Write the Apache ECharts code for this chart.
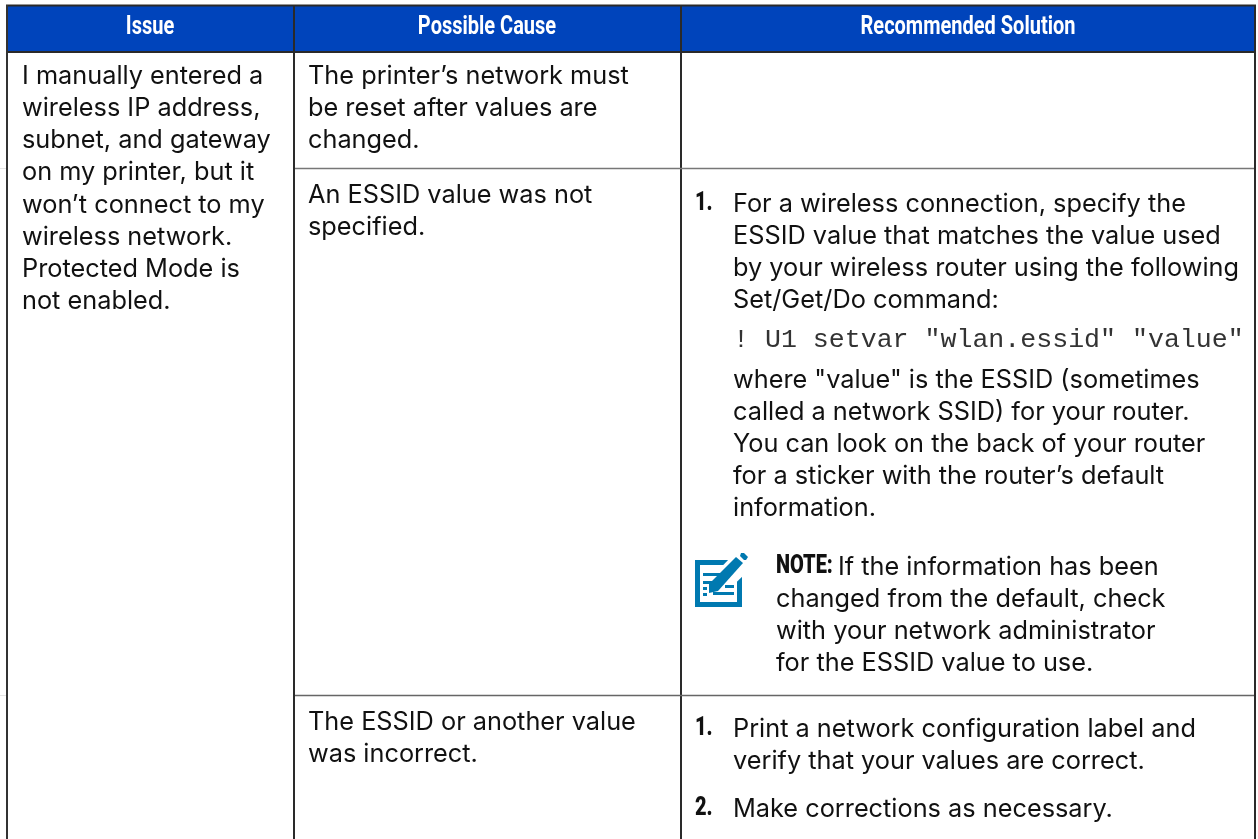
<!DOCTYPE html>
<html>
<head>
<meta charset="utf-8">
<style>html,body{margin:0;background:#fff}#main{width:1258px;height:839px}</style>
<script src="https://cdn.jsdelivr.net/npm/echarts@6/dist/echarts.min.js"></script>
</head>
<body>
<div id="main"></div>
<script>
const headers = ["Issue", "Possible Cause", "Recommended Solution"];
const issueLines = ["I manually entered a", "wireless IP address,", "subnet, and gateway", "on my printer, but it", "won\u2019t connect to my", "wireless network.", "Protected Mode is", "not enabled."];
const causeA = ["The printer\u2019s network must", "be reset after values are", "changed."];
const causeB = ["An ESSID value was not", "specified."];
const causeC = ["The ESSID or another value", "was incorrect."];
const stepA = ["For a wireless connection, specify the", "ESSID value that matches the value used", "by your wireless router using the following", "Set/Get/Do command:"];
const commandLine = "! U1 setvar \"wlan.essid\" \"value\"";
const whereLines = ["where \"value\" is the ESSID (sometimes", "called a network SSID) for your router.", "You can look on the back of your router", "for a sticker with the router\u2019s default", "information."];
const noteLines = ["If the information has been", "changed from the default, check", "with your network administrator", "for the ESSID value to use."];
const stepB = ["Print a network configuration label and", "verify that your values are correct."];
const stepC = "Make corrections as necessary.";

const BODY = "Inter, 'Noto Sans', sans-serif";
const ICON = "#0079B0";
const elements = [];

function text(str, x, y, opt) {
  const o = opt || {};
  elements.push({
    type: "text", x: x, y: y, scaleX: o.scaleX || 1, z: 5,
    style: {
      text: str, fill: o.color || "#111", font: (o.weight || "400") + " " + (o.size || 25.3) + "px " + (o.family || BODY),
      textAlign: o.align || "left", textVerticalAlign: "middle"
    }
  });
}
function block(lines, x, y, step) {
  lines.forEach((l, i) => text(l, x, y + i * (step || 32.1)));
}
function rule(x1, y1, x2, y2, color, w) {
  elements.push({ type: "line", z: 3, shape: { x1, y1, x2, y2 }, style: { stroke: color, lineWidth: w } });
}
function condensed(str, x, y) {
  text(str, x, y, { family: "Roboto, sans-serif", weight: "900", size: 25, scaleX: 0.8 });
}
function box(x, y, width, height, fill, z) {
  elements.push({ type: "rect", z: z, shape: { x, y, width, height }, style: { fill: fill } });
}
function poly(points, fill, z) {
  elements.push({ type: "polygon", z: z, shape: { points: points }, style: { fill: fill } });
}

// header band
box(7, 5, 1248, 47, "#0044BB", 1);
[150, 487, 968].forEach((x, i) => {
  text(headers[i], x, 28, { family: "Roboto, sans-serif", weight: "700", size: 25, scaleX: 0.8, align: "center", color: "#fff" });
});

// grid lines
rule(6, 5.5, 1256, 5.5, "#2a2a2a", 2);
rule(6, 52, 1256, 52, "#2a2a2a", 2);
rule(7, 5, 7, 839, "#333", 2);
rule(294, 5, 294, 839, "#2a2a2a", 2);
rule(681, 5, 681, 839, "#2a2a2a", 2);
rule(1255, 5, 1255, 839, "#2a2a2a", 2);
rule(295, 168.5, 1254, 168.5, "#777", 1.5);
rule(295, 695.5, 1254, 695.5, "#666", 1.5);
// faint stubs where the row lines break the left border
rule(0, 168.5, 6, 168.5, "#e4e4e4", 1);
rule(0, 695.5, 6, 695.5, "#e4e4e4", 1);

block(issueLines, 22, 76.5);
block(causeA, 308, 76.5);
block(causeB, 308, 195);
block(causeC, 308, 722);

condensed("1.", 695, 204);
block(stepA, 733, 204);
text(commandLine, 733, 340, { family: "'Liberation Mono', monospace", size: 26.6, color: "#333" });
block(whereLines, 733, 380);

condensed("NOTE:", 776, 567);
text(noteLines[0], 838, 567);
block(noteLines.slice(1), 776, 599);

condensed("1.", 695, 729);
block(stepB, 733, 729);
condensed("2.", 695, 809);
text(stepC, 733, 809);

// note icon
box(695, 560, 47, 47, ICON, 4);
box(700, 565, 37, 37, "#fff", 4);
poly([[730, 558], [745, 558], [745, 574], [722, 596], [706, 596], [706, 583]], "#fff", 4);
box(703, 573, 20, 3, ICON, 4);
box(703, 581, 12, 3, ICON, 4);
box(703, 587, 4, 3, ICON, 4);
box(703, 593, 4, 3, ICON, 4);
box(725, 585, 9, 3, ICON, 4);
box(713, 592, 21, 3, ICON, 4);
poly([[709, 584], [736, 557], [743, 563], [718, 591], [709, 593]], ICON, 4);
poly([[741, 553], [744, 553], [748, 557], [746, 560], [744, 560], [740, 556]], ICON, 4);

const chart = echarts.init(document.getElementById("main"));
chart.setOption({ animation: false, backgroundColor: "#fff", graphic: { elements: elements } });
</script>
</body>
</html>
